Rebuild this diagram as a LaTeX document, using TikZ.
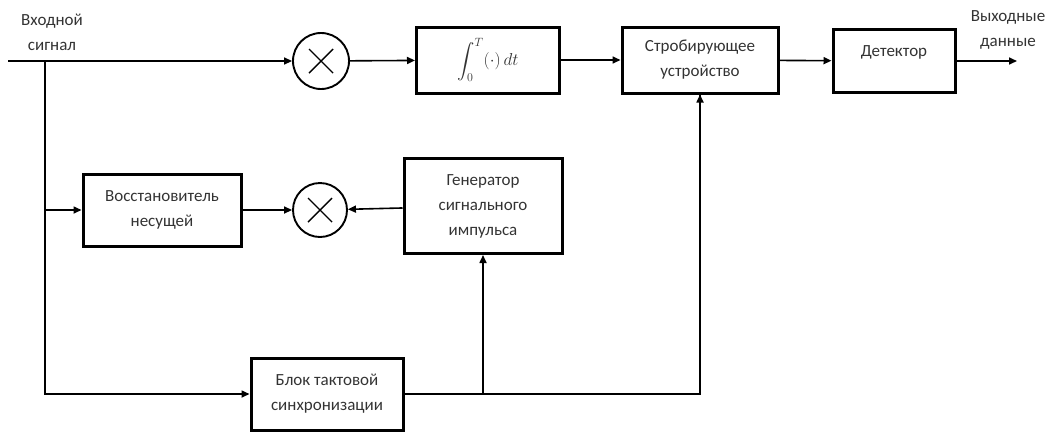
\documentclass[tikz,border=0pt]{standalone}
\usepackage{amsmath}
\usepackage{fontspec}
\setmainfont{Carlito}
\usetikzlibrary{arrows.meta}
\begin{document}
\begin{tikzpicture}[x=1pt,y=-1pt,
  font=\fontsize{17}{25}\selectfont,
  blk/.style={draw, line width=3pt, rectangle, align=center, inner sep=0pt, text=black!80},
  mul/.style={draw, line width=1.9pt, circle, minimum size=56pt, inner sep=0pt,
    path picture={\draw[line width=1.4pt] ([shift={(-12pt,-12pt)}]path picture bounding box.center) -- ([shift={(12pt,12pt)}]path picture bounding box.center);
                  \draw[line width=1.4pt] ([shift={(-12pt,12pt)}]path picture bounding box.center) -- ([shift={(12pt,-12pt)}]path picture bounding box.center);}},
  con/.style={line width=1.6pt},
  arr/.style={con, -{Triangle[length=8pt,width=7pt]}},
  lbl/.style={align=center, text=black!80, inner sep=0pt}
]
\useasboundingbox (0,0) rectangle (1051,432);

\node[mul] (m1) at (321,61) {};
\node[blk, minimum width=143pt, minimum height=66pt] (integ) at (488,60) {$\displaystyle\int_0^T (\cdot)\,dt$};
\node[blk, minimum width=156pt, minimum height=66pt] (strob) at (700,60) {Стробирующее\\устройство};
\node[blk, minimum width=122pt, minimum height=63pt] (det) at (894,61) {\raisebox{5pt}[0pt][0pt]{Детектор}};

\node[blk, minimum width=158pt, minimum height=72pt] (rest) at (162,210) {Восстановитель\\несущей};
\node[mul, minimum size=54pt] (m2) at (320,210) {};
\node[blk, minimum width=158pt, minimum height=95pt] (gen) at (483,206) {Генератор\\сигнального\\импульса};

\node[blk, minimum width=152pt, minimum height=72pt] (sync) at (327,394) {Блок тактовой\\синхронизации};

\node[lbl] (inlbl) at (52,32) {Входной\\сигнал};
\node[lbl] (outlbl) at (1008,30) {Выходные\\данные};

\coordinate (in) at (8,61);
\coordinate (j1) at (45,61);
\coordinate (out) at (1017,61);

\draw[arr] (in) -- (m1);
\draw[arr] (m1) -- (integ);
\draw[arr] (integ) -- (strob);
\draw[arr] (strob) -- (det);
\draw[arr] (det) -- (out);

\draw[arr] (j1) |- (sync.west);
\draw[arr] (j1 |- rest.west) -- (rest.west);
\draw[arr] (rest) -- (m2);
\draw[arr] (gen) -- (m2);

\draw[con] (sync.east) -| (strob.south);
\draw[arr] (sync.east -| gen.south) -- (gen.south);
\draw[arr] ([yshift=1pt]sync.east -| strob.south) -- (strob.south);
\end{tikzpicture}
\end{document}
